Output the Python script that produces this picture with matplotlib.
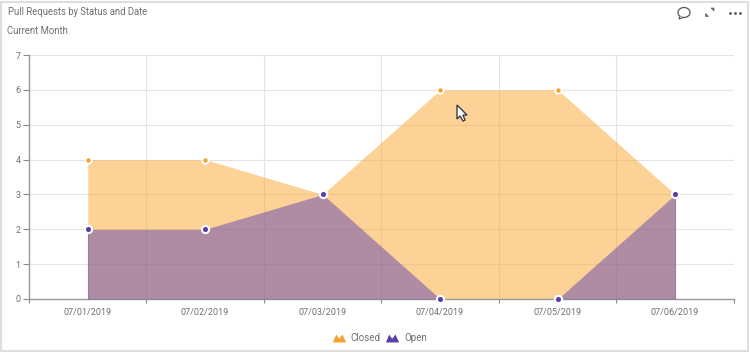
import matplotlib
matplotlib.use('Agg')
import matplotlib.pyplot as plt
from matplotlib.lines import Line2D
from matplotlib.patches import Polygon, Rectangle, PathPatch
from matplotlib.path import Path
from matplotlib.transforms import Affine2D

plt.rcParams['font.family'] = ['Roboto', 'DejaVu Sans']

dates = ['07/01/2019', '07/02/2019', '07/03/2019', '07/04/2019', '07/05/2019', '07/06/2019']
closed = [4, 4, 3, 6, 6, 3]
opened = [2, 2, 3, 0, 0, 3]
y_ticks = [0, 1, 2, 3, 4, 5, 6, 7]

W, H = 750, 352
text_col = '#707070'
orange = '#f5a130'
purple = '#5b3fa8'

fig = plt.figure(figsize=(W / 100, H / 100), dpi=100)

# plot area in pixels of the picture
left, right, top, bottom = 29, 734, 55, 299
ax = fig.add_axes([left / W, 1 - bottom / H, (right - left) / W, (bottom - top) / H])

xs = list(range(len(dates)))
ax.set_xlim(-0.5, 5.5)
ax.set_ylim(0, 7)

# grid, lines between the categories
ax.set_xticks([i - 0.5 for i in xs] + [5.5])
ax.set_xticklabels([])
ax.set_yticks(y_ticks)
ax.grid(True, color='#e4e4e4', lw=0.8)
ax.set_axisbelow(True)
ax.tick_params(axis='x', length=3, color='#8a8a8a', width=0.8)
ax.tick_params(axis='y', length=4, color='#8a8a8a', width=0.8, labelsize=6.5, labelcolor=text_col, pad=2)

for s in ['top', 'right']:
    ax.spines[s].set_visible(False)
ax.spines['left'].set_color('#9a9a9a')
ax.spines['bottom'].set_color('#9a9a9a')
ax.spines['left'].set_linewidth(1)
ax.spines['bottom'].set_linewidth(1)

# areas
ax.fill_between(xs, closed, 0, color='#fba72f', alpha=0.5, lw=0, zorder=2)
ax.fill_between(xs, opened, 0, color='#6347b3', alpha=0.5, lw=0, zorder=3)
ax.plot([0, 0], [0, opened[0]], color='#9a7f9c', lw=0.8, zorder=3)
ax.plot([5, 5], [0, opened[5]], color='#9a7f9c', lw=0.8, zorder=3)

# points
ax.plot(xs, closed, ls='', marker='o', ms=4.6, mfc=orange, mec='white', mew=1.4, zorder=5, clip_on=False)
ax.plot(xs, opened, ls='', marker='o', ms=5.2, mfc=purple, mec='white', mew=1.5, zorder=6, clip_on=False)

for i, d in enumerate(dates):
    ax.text(i - 0.005, -0.4, d, ha='center', va='center', fontsize=6.5, color=text_col)

fig.text(8 / W, 1 - 12 / H, 'Pull Requests by Status and Date', fontsize=6.85, color=text_col, va='center')
fig.text(7 / W, 1 - 31 / H, 'Current Month', fontsize=6.85, color=text_col, va='center')

# legend with the two peak marker
peaks = Path([(-1, -0.6), (-0.5, 0.6), (-0.05, -0.05), (0.45, 0.6), (1, -0.6), (-1, -0.6)],
             [Path.MOVETO, Path.LINETO, Path.LINETO, Path.LINETO, Path.LINETO, Path.CLOSEPOLY])
handles = [Line2D([], [], ls='', marker=peaks, ms=9.5, mfc=orange, mec='none'),
           Line2D([], [], ls='', marker=peaks, ms=9.5, mfc=purple, mec='none')]
fig.legend(handles, ['Closed', 'Open'], loc='center', bbox_to_anchor=(378 / W, 1 - 338 / H), ncol=2,
           frameon=False, fontsize=7, labelcolor=text_col, handletextpad=0.2, columnspacing=0.2)

# card border
fig.add_artist(Rectangle((1 / W, 1 / H), (W - 3) / W, (H - 3) / H, transform=fig.transFigure,
                         fill=False, ec='#dedede', lw=1.5))


def px(x, y):
    return x / W, 1 - y / H


# icons top right: speech bubble
bubble = Path.unit_circle().transformed(Affine2D().scale(6, 5).translate(684, 12.5))
fig.add_artist(PathPatch(Path([px(*v) for v in bubble.vertices], bubble.codes), transform=fig.transFigure,
                         fill=False, ec='#555555', lw=0.9))
fig.add_artist(Polygon([px(680, 16), px(679, 19), px(683, 17.5)], closed=False, transform=fig.transFigure,
                       fc='white', ec='#555555', lw=0.8))
# expand arrows
for tip, a, b in [((705.5, 16.5), (705.5, 13.5), (708.5, 16.5)), ((714, 8), (714, 11), (711, 8))]:
    fig.add_artist(Polygon([px(*tip), px(*a), px(*b)], closed=True, transform=fig.transFigure,
                           fc='#666666', ec='#666666', lw=0.5))
for dx in [730, 735, 740]:
    fig.add_artist(Line2D([dx / W], [1 - 12.7 / H], ls='', marker='o', ms=2, color='#555555', mew=0))

# mouse pointer
cursor = [(457, 105), (457, 119), (460, 116), (463, 121), (465, 120), (463, 115), (467, 115)]
fig.add_artist(Polygon([px(x, y) for x, y in cursor], closed=True, transform=fig.transFigure,
                       fc='white', ec='#3c3c44', lw=1))

plt.savefig('out.png', dpi=100)
